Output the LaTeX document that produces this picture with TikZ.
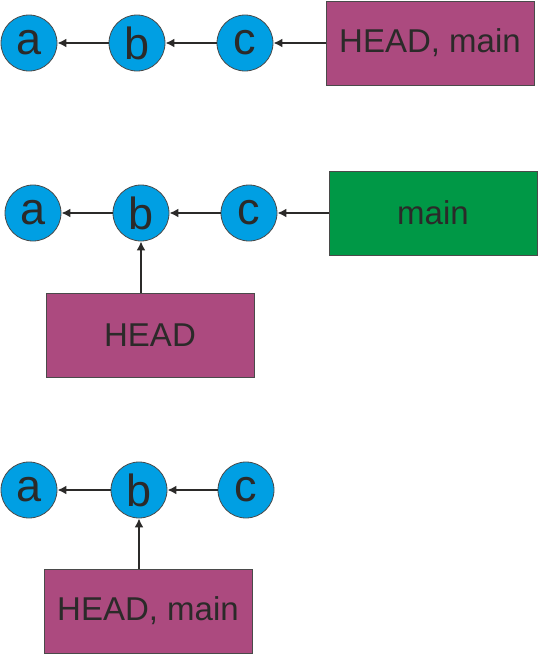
\documentclass[tikz,border=0pt]{standalone}
\usepackage{fontspec}
\setmainfont{Liberation Sans}
\usetikzlibrary{arrows.meta}
\definecolor{commitblue}{HTML}{009FE3}
\definecolor{refpurple}{HTML}{AC4A7F}
\definecolor{refgreen}{HTML}{009846}
\definecolor{inkgray}{HTML}{2B2A29}
\definecolor{edgegray}{HTML}{4A4A4A}
\tikzset{
  commit/.style={circle, draw=edgegray, line width=0.8pt, fill=commitblue,
    minimum size=56pt, inner sep=0pt, text=inkgray, font=\fontsize{45}{45}\selectfont},
  refbox/.style={rectangle, draw=edgegray, line width=0.8pt, minimum width=208pt,
    minimum height=84pt, inner sep=0pt, text=inkgray, font=\fontsize{33}{33}\selectfont},
  headref/.style={refbox, fill=refpurple},
  branchref/.style={refbox, fill=refgreen},
  link/.style={draw=inkgray, line width=2pt, -{Latex[length=9pt,width=9pt]}}
}
\begin{document}
\begin{tikzpicture}[x=1pt, y=-1pt]
\useasboundingbox (0,0) rectangle (539,654);

% first state: HEAD and main on c
\node[commit] (a1) at (29,43) {a};
\node[commit] (b1) at (137,43) {b};
\node[commit] (c1) at (245,43) {c};
\node[headref] (h1) at (430,43) {HEAD, main};
\draw[link] (b1) -- (a1);
\draw[link] (c1) -- (b1);
\draw[link] (h1) -- (c1);

% second state: detached HEAD on b
\node[commit] (a2) at (33,213) {a};
\node[commit] (b2) at (141,213) {b};
\node[commit] (c2) at (249,213) {c};
\node[branchref] (m2) at (433,213) {main};
\node[headref] (h2) at (150,335) {HEAD};
\draw[link] (b2) -- (a2);
\draw[link] (c2) -- (b2);
\draw[link] (m2) -- (c2);
\draw[link] (h2.north -| b2) -- (b2);

% third state: HEAD and main on b
\node[commit] (a3) at (29,490) {a};
\node[commit] (b3) at (139,490) {b};
\node[commit] (c3) at (246,490) {c};
\node[headref] (h3) at (148,611) {HEAD, main};
\draw[link] (b3) -- (a3);
\draw[link] (c3) -- (b3);
\draw[link] (h3.north -| b3) -- (b3);
\end{tikzpicture}
\end{document}
